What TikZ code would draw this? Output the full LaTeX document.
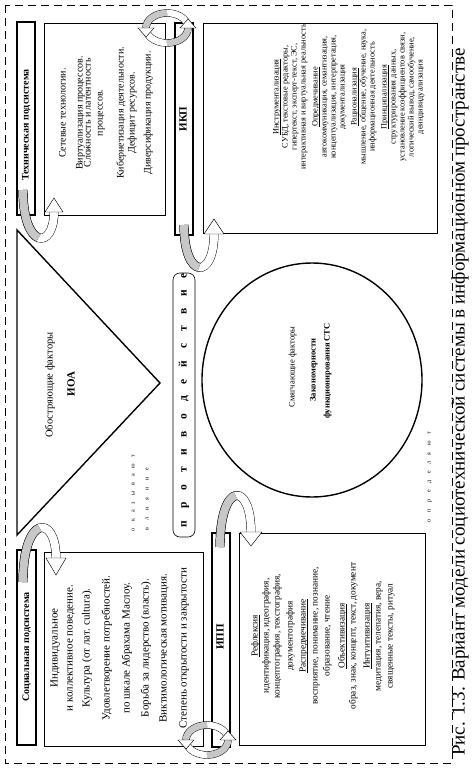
\documentclass[tikz,border=0pt]{standalone}
\usepackage{fontspec}
\setmainfont{Liberation Serif}
\newcommand\ulin[1]{\setbox0\hbox{#1}\rlap{\rule[-1.6pt]{\wd0}{0.6pt}}\box0}
\begin{document}
\begin{tikzpicture}[x=1pt,y=-1pt,
  rot/.style={rotate=90, inner sep=0pt, text height=0.72em, text depth=0.22em},
  bar/.style={draw, line width=2.4pt, fill=white, inner sep=0pt},
  tbox/.style={draw, line width=0.7pt, fill=white, inner sep=0pt},
  band/.style={draw=black, line width=0.45pt, double=#1, double distance=8pt},
  cband/.style={draw=black, line width=0.45pt, double=#1, double distance=6.5pt},
  head/.style={draw=black, line width=0.45pt, fill=white, line join=miter},
  fs/.style={font=\fontsize{#1}{#1}\selectfont},
  bfs/.style={font=\bfseries\fontsize{#1}{#1}\selectfont},
]
\useasboundingbox (0,0) rectangle (476,768);
\definecolor{bandgray}{gray}{0.78}

% outer dashed frame
\draw[line width=0.8pt, dash pattern=on 8pt off 5pt] (5,5) rectangle (452,763);

% boxes
\node[bar, minimum width=18pt, minimum height=193pt] (techbar) at (26,118.5) {};
\node[tbox, minimum width=121pt, minimum height=192pt] (techbox) at (104.5,119) {};
\node[bar, minimum width=19pt, minimum height=195pt] (socbar) at (26.5,647.5) {};
\node[tbox, minimum width=159pt, minimum height=194pt] (socbox) at (123.5,649) {};
\node[bar, minimum width=18pt, minimum height=212pt] (ikpbar) at (184,129) {};
\node[tbox, minimum width=234pt, minimum height=210pt] (ikpbox) at (320,128) {};
\node[bar, minimum width=18pt, minimum height=214pt] (ippbar) at (221,640) {};
\node[tbox, minimum width=186pt, minimum height=212pt] (ippbox) at (332,639) {};

% triangle and circle
\draw[line width=1.4pt] (17,230) -- (160,383) -- (17,535) -- cycle;
\draw[line width=1.4pt] (312,380) ellipse [x radius=110, y radius=117];
\node[draw, line width=0.6pt, rounded corners=7pt, minimum width=22pt, minimum height=264pt, inner sep=0pt] (protbox) at (184,405) {};

% bar labels
\node[rot, bfs=10] (techlab) at (26,125) {Техническая подсистема};
\node[rot, bfs=10] (soclab) at (26.5,647) {Социальная подсистема};
\node[rot, bfs=11] (ikplab) at (184,119) {ИКП};
\node[rot, bfs=11] (ipplab) at (221,637) {ИПП};

% triangle / circle texts
\node[rot, fs=10.5] (obost) at (50,385) {Обостряющие факторы};
\node[rot, bfs=11] (ioa) at (72,384) {ИОА};
\node[rot, fs=8.5] (smyag) at (292,367) {Смягчающие факторы};
\node[rot, bfs=8.5] (zakon) at (313,370) {Закономерности};
\node[rot, bfs=8.5] (funk) at (327,371) {функционирования СТС};

% spaced words
\node[rot, fs=6] (okaz) at (132,493) {\makebox[76pt][s]{о к а з ы в а ю т}};
\node[rot, fs=6] (vliya) at (146,499) {\makebox[62pt][s]{в л и я н и е}};
\node[rot, fs=6] (opred) at (428,477) {\makebox[90pt][s]{о п р е д е л я ю т}};
\node[rot, bfs=11.5] (protiv) at (184,400) {\makebox[254pt][s]{п р о т и в о д е й с т в и е}};

% technical box text
\foreach \posx/\linetext [count=\i] in {63/{Сетевые технологии.}, 80/{Виртуализация процессов.}, 88/{Сложность и латентность}, 100/{процессов.}, 121/{Кибернетизация деятельности.}, 132/{Дефицит ресурсов.}, 148/{Диверсификация продукции.}}
  \node[rot, fs=10] (tech\i) at (\posx,113) {\linetext};

% social box text
\foreach \posx/\linetext [count=\i] in {55/{Индивидуальное}, 70/{и коллективное поведение.}, 87/{Культура (от лат. cultura).}, 107/{Удовлетворение потребностей.}, 127/{по шкале Абрахама Маслоу.}, 146/{Борьба за лидерство (власть).}, 164/{Виктимологическая мотивация.}, 184/{Степень открытости и закрытости}}
  \node[rot, fs=11] (soc\i) at (\posx,648) {\linetext};

% IKP box text
\foreach \posx/\linetext [count=\i] in {276/{\ulin{Инструментализация}}, 285/{СУБД, текстовые редакторы,}, 294/{гипертекст, эксперт-текст, ЭС,}, 303/{интерактивная и виртуальная реальность}, 315/{\ulin{Опредмечивание}}, 324/{автокоммуникация, семантизация,}, 333/{концептуализация, интерпретация,}, 342/{документализация}, 354/{\ulin{Рационализация}}, 363/{мышление, общение, обучение, наука,}, 372/{информационная деятельность}, 384/{\ulin{Принципализация}}, 393/{структурирования данных,}, 402/{установление коэффициентов связи,}, 411/{логический вывод, самообучение,}, 420/{деиндивидуализация}}
  \node[rot, fs=8.3] (ikp\i) at (\posx,97) {\linetext};

% IPP box text
\foreach \posx/\linetext [count=\i] in {255/{\ulin{Рефлексия}}, 266/{идентификация, идеография,}, 277/{концептография, текстография,}, 290/{документография}, 303/{\ulin{Распредмечивание}}, 315/{восприятие, понимание, познание,}, 327/{образование, чтение}, 342/{\ulin{Объективизация}}, 353/{образ, знак, концепт, текст, документ}, 367/{\ulin{Интуитивизация}}, 378/{медитация, телепатия, вера,}, 390/{священные тексты, ритуал}}
  \node[rot, fs=9.3] (ipp\i) at (\posx,636) {\linetext};

% caption
\node[rot, fs=19] (caption) at (462,402) {Рис. 1.3. Вариант модели социотехнической системы в информационном пространстве};

% U-shaped block arrows
% technical
\draw[band=white] (23,190) .. controls (23,250) and (54,250) .. (54,212);
\draw[band=bandgray] (23,190) .. controls (23,220) and (30.75,235) .. (38.5,237.75);
\draw[head] (45,212) -- (54,198) -- (63,212) -- cycle;
% IKP
\draw[band=white] (184,225) .. controls (184,280) and (214,280) .. (214,234);
\draw[band=bandgray] (184,225) .. controls (184,252.5) and (191.5,266.25) .. (199,267.4);
\draw[head] (204,234) -- (214,219) -- (224,234) -- cycle;
% social
\draw[band=white] (23,582) .. controls (23,514) and (56,514) .. (56,558);
\draw[band=bandgray] (23,582) .. controls (23,548) and (31.25,531) .. (39.5,528);
\draw[head] (46,558) -- (56,575) -- (66,558) -- cycle;
% IPP
\draw[band=white] (220,547) .. controls (220,481) and (251,481) .. (251,532);
\draw[band=bandgray] (220,547) .. controls (220,514) and (227.75,497.5) .. (235.5,495.6);
\draw[head] (240,532) -- (251,546) -- (262,532) -- cycle;

% cycle arrows
\foreach \cx/\cy in {167/28, 207/740} {
  \begin{scope}[shift={(\cx,\cy)}]
    \draw[cband=white] (345:21 and 15) arc[start angle=345, end angle=270, x radius=21, y radius=15];
    \draw[cband=bandgray] (270:21 and 15) arc[start angle=270, end angle=180, x radius=21, y radius=15];
    \draw[cband=white] (165:21 and 15) arc[start angle=165, end angle=90, x radius=21, y radius=15];
    \draw[cband=bandgray] (90:21 and 15) arc[start angle=90, end angle=0, x radius=21, y radius=15];
    \draw[head] (-29,0) -- (-21,9) -- (-13,0) -- cycle;
    \draw[head] (13,0) -- (21,-9) -- (29,0) -- cycle;
  \end{scope}
}
\end{tikzpicture}
\end{document}
